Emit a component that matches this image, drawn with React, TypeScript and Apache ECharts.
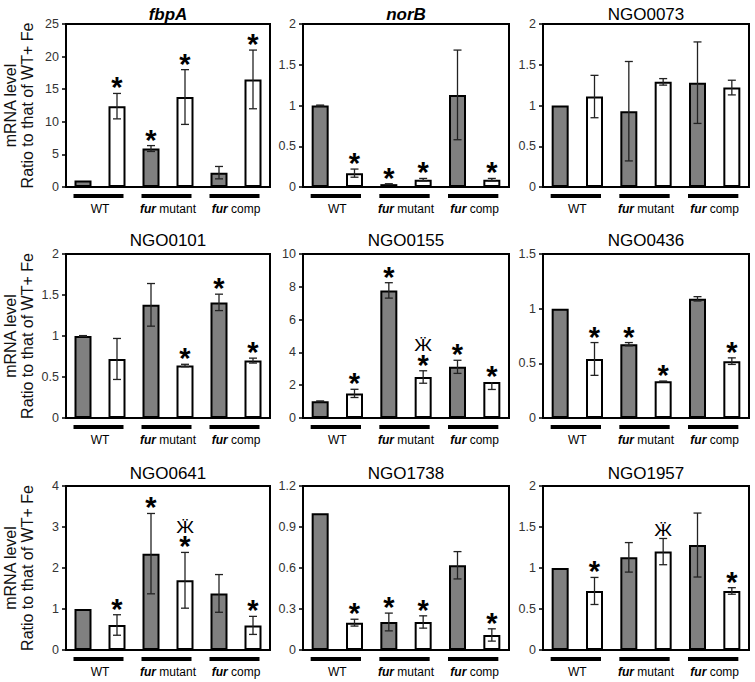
import React, { useEffect, useRef } from 'react';
import * as echarts from 'echarts';

// ---------- data ----------
const panelTitles = ['fbpA', 'norB', 'NGO0073', 'NGO0101', 'NGO0155', 'NGO0436', 'NGO0641', 'NGO1738', 'NGO1957'];
const italicTitles = ['fbpA', 'norB'];
const categories = ['WT +Fe', 'WT -Fe', 'fur mutant +Fe', 'fur mutant -Fe', 'fur comp +Fe', 'fur comp -Fe'];
const groupNames = ['WT', 'fur mutant', 'fur comp'];
const groupSpans = [[0, 1], [2, 3], [4, 5]];
const yAxisTitle = 'mRNA level\nRatio to that of WT+ Fe';

const yMax = [25, 2, 2, 2, 10, 1.5, 4, 1.2, 2];
const yStep = [5, 0.5, 0.5, 0.5, 2, 0.5, 1, 0.3, 0.5];

const fbpAValues = [1, 12.4, 5.9, 13.8, 2.2, 16.5];
const fbpAErrors = [0, 1.95, 0.45, 4.2, 0.95, 4.5];
const fbpAMarks = ['', '*', '*', '*', '', '*'];

const norBValues = [1, 0.17, 0.035, 0.09, 1.13, 0.09];
const norBErrors = [0.005, 0.05, 0.005, 0.015, 0.55, 0.015];
const norBMarks = ['', '*', '*', '*', '', '*'];

const ngo0073Values = [1, 1.11, 0.93, 1.29, 1.28, 1.22];
const ngo0073Errors = [0, 0.26, 0.61, 0.04, 0.5, 0.09];
const ngo0073Marks = ['', '', '', '', '', ''];

const ngo0101Values = [1, 0.72, 1.38, 0.64, 1.41, 0.7];
const ngo0101Errors = [0.005, 0.25, 0.26, 0.015, 0.1, 0.03];
const ngo0101Marks = ['', '', '', '*', '*', '*'];

const ngo0155Values = [1.02, 1.5, 7.78, 2.5, 3.12, 2.2];
const ngo0155Errors: (number | number[])[] = [0.02, 0.25, 0.47, 0.38, 0.4, [0.46, 0]];
const ngo0155Marks = ['', '*', '*', 'Ӝ*', '*', '*'];

const ngo0436Values = [1, 0.54, 0.675, 0.335, 1.09, 0.52];
const ngo0436Errors = [0, 0.15, 0.015, 0.003, 0.02, 0.03];
const ngo0436Marks = ['', '*', '*', '*', '', '*'];

const ngo0641Values = [1, 0.61, 2.35, 1.7, 1.38, 0.6];
const ngo0641Errors = [0, 0.25, 0.98, 0.68, 0.46, 0.22];
const ngo0641Marks = ['', '*', '*', 'Ӝ*', '', '*'];

const ngo1738Values = [1, 0.2, 0.205, 0.205, 0.62, 0.11];
const ngo1738Errors = [0, 0.025, 0.065, 0.045, 0.1, 0.045];
const ngo1738Marks = ['', '*', '*', '*', '', '*'];

const ngo1957Values = [1, 0.72, 1.13, 1.2, 1.28, 0.72];
const ngo1957Errors = [0, 0.165, 0.18, 0.16, 0.39, 0.04];
const ngo1957Marks = ['', '*', '', 'Ӝ', '', '*'];

const allValues = [fbpAValues, norBValues, ngo0073Values, ngo0101Values, ngo0155Values, ngo0436Values, ngo0641Values, ngo1738Values, ngo1957Values];
const allErrors: (number | number[])[][] = [fbpAErrors, norBErrors, ngo0073Errors, ngo0101Errors, ngo0155Errors, ngo0436Errors, ngo0641Errors, ngo1738Errors, ngo1957Errors];
const allMarks = [fbpAMarks, norBMarks, ngo0073Marks, ngo0101Marks, ngo0155Marks, ngo0436Marks, ngo0641Marks, ngo1738Marks, ngo1957Marks];

// ---------- layout ----------
const FONT = '"Liberation Sans", Arial, sans-serif';
const cols = [[66, 270], [303, 509], [543, 749]];
const rows = [[24, 187], [254, 418], [486, 650]];
const titleY = [14, 240, 473];
const BAR_W = 17;

function errPair(e: number | number[]) {
  return Array.isArray(e) ? e : [e, e];
}

function buildOption() {
  const grid: any[] = [];
  const xAxis: any[] = [];
  const yAxis: any[] = [];
  const series: any[] = [];
  const graphic: any[] = [];

  for (let p = 0; p < 9; p++) {
    const r = Math.floor(p / 3);
    const c = p % 3;
    const [x0, x1] = cols[c];
    const [y0, y1] = rows[r];
    const values = allValues[p];
    const errors = allErrors[p];
    const marks = allMarks[p];

    grid.push({
      left: x0, top: y0, width: x1 - x0, height: y1 - y0,
      show: true, borderColor: '#000', borderWidth: 2, backgroundColor: 'transparent',
    });
    xAxis.push({
      gridIndex: p, type: 'category', data: categories,
      axisLine: { show: true, lineStyle: { color: '#000', width: 2 } },
      axisTick: { show: false }, axisLabel: { show: false }, splitLine: { show: false },
    });
    yAxis.push({
      gridIndex: p, type: 'value', min: 0, max: yMax[p], interval: yStep[p],
      axisLine: { show: true, lineStyle: { color: '#000', width: 2 } },
      axisTick: { show: true, length: 4, lineStyle: { color: '#000', width: 1.5 } },
      splitLine: { show: false },
      axisLabel: {
        margin: 7, fontSize: 12.5, color: '#333', fontFamily: FONT,
        formatter: (v: number) => String(+v.toFixed(2)),
      },
      name: c === 0 ? yAxisTitle : '',
      nameLocation: 'middle', nameRotate: 90, nameGap: 30,
      nameTextStyle: { fontSize: 16, lineHeight: 17, color: '#111', fontFamily: FONT },
    });

    series.push({
      type: 'bar', xAxisIndex: p, yAxisIndex: p, barWidth: BAR_W, z: 2,
      data: values.map((v, i) => ({ value: v, itemStyle: { color: i % 2 === 0 ? '#808080' : '#ffffff' } })),
      itemStyle: { borderColor: '#000', borderWidth: 2 },
    });

    series.push({
      type: 'custom', xAxisIndex: p, yAxisIndex: p, clip: false, z: 3,
      data: values.map((v, i) => [i, v]),
      renderItem: (params: any, api: any) => {
        const i = params.dataIndex;
        const v = api.value(1);
        const [lo, hi] = errPair(errors[i]);
        if (lo === 0 && hi === 0) return null;
        const top = api.coord([i, v + hi]);
        const bot = api.coord([i, v - lo]);
        const x = top[0];
        const cap = 4;
        const st = { stroke: '#222', lineWidth: 1.3 };
        const children: any[] = [
          { type: 'line', shape: { x1: x, y1: top[1], x2: x, y2: bot[1] }, style: st },
        ];
        if (hi > 0) children.push({ type: 'line', shape: { x1: x - cap, y1: top[1], x2: x + cap, y2: top[1] }, style: st });
        if (lo > 0) children.push({ type: 'line', shape: { x1: x - cap, y1: bot[1], x2: x + cap, y2: bot[1] }, style: st });
        return { type: 'group', children };
      },
    });

    series.push({
      type: 'custom', xAxisIndex: p, yAxisIndex: p, clip: false, z: 4,
      data: values.map((v, i) => [i, v]),
      renderItem: (params: any, api: any) => {
        const i = params.dataIndex;
        const m = marks[i];
        if (!m) return null;
        const v = api.value(1);
        const [, hi] = errPair(errors[i]);
        const pt = api.coord([i, v + hi]);
        const x = pt[0];
        const children: any[] = [];
        const hasStar = m.indexOf('*') >= 0;
        const hasZhe = m.indexOf('Ӝ') >= 0;
        if (hasStar) {
          children.push({
            type: 'text', x, y: pt[1] - 6,
            style: {
              text: '*', fontSize: 29, fontWeight: 'bold', lineHeight: 13, fontFamily: FONT, fill: '#000',
              align: 'center', verticalAlign: 'middle',
            },
          });
        }
        if (hasZhe) {
          children.push({
            type: 'text', x, y: hasStar ? pt[1] - 25 : pt[1] - 8, scaleX: 1.2,
            style: {
              text: 'Ӝ', fontSize: 16, lineHeight: 12, fontFamily: FONT, fill: '#000',
              align: 'center', verticalAlign: 'middle',
            },
          });
        }
        return { type: 'group', children };
      },
    });

    series.push({
      type: 'custom', xAxisIndex: p, yAxisIndex: p, clip: false, z: 4, silent: true,
      data: groupSpans.map((g) => [g[0], g[1]]),
      renderItem: (params: any, api: any) => {
        const a = api.coord([api.value(0), 0]);
        const b = api.coord([api.value(1), 0]);
        const name = groupNames[params.dataIndex];
        const text = name.indexOf('fur') === 0 ? '{i|fur}' + name.slice(3) : name;
        return {
          type: 'group',
          children: [
            { type: 'rect', shape: { x: a[0] - BAR_W / 2 - 1, y: a[1] + 7, width: b[0] - a[0] + BAR_W - 1, height: 4 }, style: { fill: '#000' } },
            {
              type: 'text', x: (a[0] + b[0]) / 2, y: a[1] + 22,
              style: {
                text, fontSize: 12, fontFamily: FONT, fill: '#000', align: 'center', verticalAlign: 'middle',
                rich: { i: { fontSize: 12, fontFamily: FONT, fontStyle: 'italic', fontWeight: 'bold', fill: '#000' } },
              },
            },
          ],
        };
      },
    });

    const title = panelTitles[p];
    const ital = italicTitles.indexOf(title) >= 0;
    graphic.push({
      type: 'text', x: (x0 + x1) / 2, y: titleY[r],
      style: {
        text: title, fontSize: 17, fontFamily: FONT, fill: '#000', align: 'center', verticalAlign: 'middle',
        fontStyle: ital ? 'italic' : 'normal', fontWeight: ital ? 'bold' : 'normal',
      },
    });
  }

  return { animation: false, backgroundColor: '#fff', grid, xAxis, yAxis, series, graphic };
}

export default function App() {
  const ref = useRef<HTMLDivElement>(null);
  useEffect(() => {
    if (!ref.current) return;
    const chart = echarts.init(ref.current, undefined, { renderer: 'svg' });
    chart.setOption(buildOption() as any);
    return () => chart.dispose();
  }, []);
  return <div ref={ref} style={{ position: 'fixed', left: 0, top: 0, width: 755, height: 682 }} />;
}
